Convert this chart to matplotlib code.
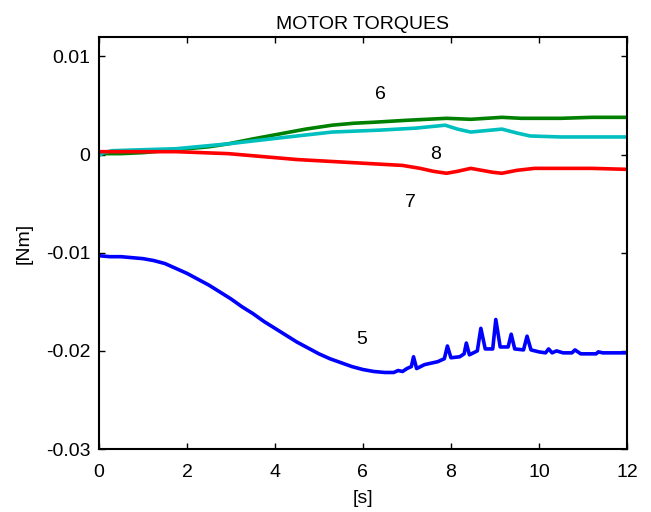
import numpy as np
import matplotlib
matplotlib.use("Agg")
import matplotlib.pyplot as plt

plt.rcParams['font.family'] = ['Liberation Sans', 'DejaVu Sans']

# motor 5 (blue)
t5 = [0, 0.25, 0.5, 0.75, 1.0, 1.25, 1.5, 1.75, 2.0, 2.25, 2.5, 2.75, 3.0,
      3.25, 3.5, 3.75, 4.0, 4.25, 4.5, 4.75, 5.0, 5.25, 5.5, 5.75, 6.0, 6.25,
      6.5, 6.7, 6.8, 6.9, 7.0, 7.1, 7.15, 7.22, 7.4, 7.7, 7.85, 7.92, 8.0,
      8.2, 8.3, 8.35, 8.42, 8.6, 8.68, 8.78, 8.95, 9.02, 9.12, 9.3, 9.37,
      9.45, 9.65, 9.73, 9.82, 10.0, 10.15, 10.22, 10.3, 10.4, 10.55, 10.75,
      10.82, 10.95, 11.3, 11.35, 11.45, 11.8, 12.0]
v5 = [-0.0103, -0.0104, -0.0104, -0.0105, -0.0106, -0.0108, -0.0111, -0.0116,
      -0.0121, -0.0127, -0.0133, -0.0140, -0.0147, -0.0155, -0.0162, -0.0170,
      -0.0177, -0.0184, -0.0191, -0.0197, -0.0203, -0.0208, -0.0212, -0.0216,
      -0.0219, -0.0221, -0.0222, -0.0222, -0.0220, -0.0221, -0.0218, -0.0216,
      -0.0206, -0.0218, -0.0214, -0.0211, -0.0208, -0.0195, -0.0207, -0.0206,
      -0.0203, -0.0192, -0.0204, -0.0200, -0.0177, -0.0198, -0.0198, -0.0168,
      -0.0196, -0.0196, -0.0183, -0.0198, -0.0199, -0.0185, -0.0199, -0.0201,
      -0.0202, -0.0198, -0.0202, -0.0200, -0.0202, -0.0202, -0.0199, -0.0203,
      -0.0203, -0.0201, -0.0202, -0.0202, -0.0202]

# motor 6 (green)
t6 = [0, 0.5, 1.0, 1.75, 2.5, 2.94, 3.5, 4.1, 4.7, 5.3, 5.8, 6.25, 7.0, 7.9,
      8.45, 9.16, 9.6, 10.5, 11.2, 12.0]
v6 = [0.0001, 0.0001, 0.0002, 0.0005, 0.0008, 0.0011, 0.0016, 0.0021, 0.0026,
      0.0030, 0.0032, 0.0033, 0.0035, 0.0037, 0.0036, 0.0038, 0.0037, 0.0037,
      0.0038, 0.0038]

# motor 7 (red)
t7 = [0, 0.3, 1.0, 1.75, 2.94, 4.5, 6.1, 6.9, 7.3, 7.6, 7.9, 8.15, 8.45, 8.7,
      8.95, 9.16, 9.5, 9.9, 10.5, 11.2, 12.0]
v7 = [0.0003, 0.0003, 0.0003, 0.0003, 0.0001, -0.0005, -0.0009, -0.0011,
      -0.0014, -0.0017, -0.0019, -0.0017, -0.0014, -0.0016, -0.0018, -0.0019,
      -0.0016, -0.0014, -0.0014, -0.0014, -0.0015]

# motor 8 (cyan)
t8 = [0, 0.1, 0.3, 1.0, 1.75, 2.94, 4.1, 5.3, 6.4, 7.2, 7.87, 8.15, 8.45,
      9.16, 9.5, 9.8, 10.5, 12.0]
v8 = [-0.0001, 0.0002, 0.0004, 0.0005, 0.0006, 0.0011, 0.0017, 0.0023,
      0.0025, 0.0027, 0.0030, 0.0026, 0.0023, 0.0026, 0.0022, 0.0019, 0.0018,
      0.0018]

labels = ['5', '6', '7', '8']
label_pos = [(5.98, -0.0188), (6.4, 0.0061), (7.07, -0.0049), (7.66, 0.0)]

fig = plt.figure(figsize=(6.51, 5.12), dpi=100)
ax = fig.add_axes([0.152, 0.123, 0.811, 0.805])

ax.plot(t5, v5, color='#0000ff', lw=2.6)
ax.plot(t6, v6, color='#008000', lw=2.6)
ax.plot(t8, v8, color='#00bfbf', lw=2.6)
ax.plot(t7, v7, color='#ff0000', lw=2.6)

for lab, (x, y) in zip(labels, label_pos):
    ax.text(x, y, lab, fontsize=14, ha='center', va='center')

ax.set_xlim(0, 12)
ax.set_ylim(-0.03, 0.012)
ax.set_xticks(np.arange(0, 13, 2))
ax.set_yticks([-0.03, -0.02, -0.01, 0, 0.01])
ax.set_yticklabels(['-0.03', '-0.02', '-0.01', '0', '0.01'])
ax.tick_params(direction='in', top=True, right=True, labelsize=14,
               length=4, width=1)
ax.tick_params(axis='y', pad=6)
ax.tick_params(axis='x', pad=11)
for s in ax.spines.values():
    s.set_linewidth(1.5)

ax.set_title('MOTOR TORQUES', fontsize=14, pad=6)
ax.set_xlabel('[s]', fontsize=14, labelpad=6)
ax.set_ylabel('[Nm]', fontsize=14, labelpad=10)

fig.savefig('out.png', dpi=100)
